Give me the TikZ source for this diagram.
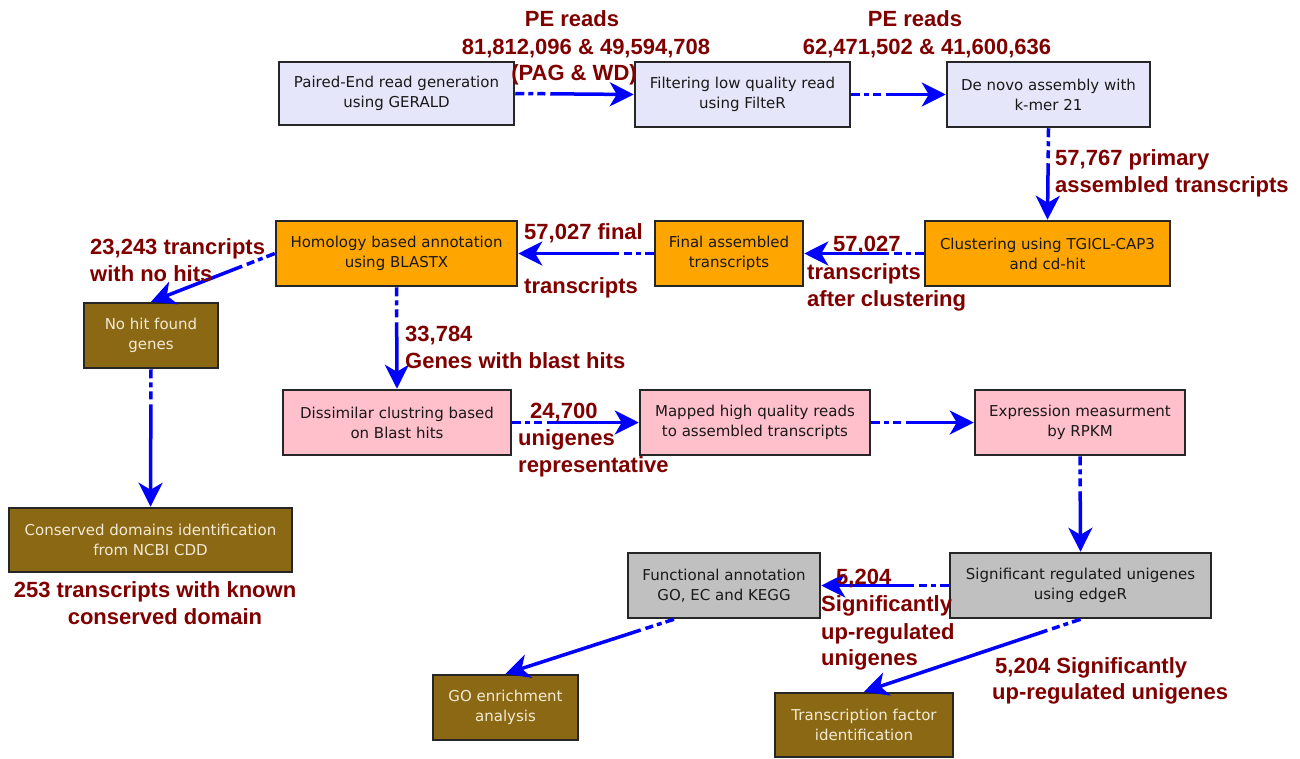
\documentclass[tikz,border=0pt]{standalone}
\usepackage{fontspec}
\setmainfont{DejaVu Sans}
\newfontfamily\labfont{Liberation Sans}
\usetikzlibrary{arrows.meta,calc}
\definecolor{lav}{HTML}{E6E6FA}
\definecolor{orng}{HTML}{FFA500}
\definecolor{pnk}{HTML}{FFC0CB}
\definecolor{gry}{HTML}{C0C0C0}
\definecolor{brn}{HTML}{8B6914}
\definecolor{dred}{HTML}{800000}
\definecolor{btxt}{HTML}{F3EAD6}
\tikzset{
  box/.style={draw=black!85, line width=2.5pt, minimum height=65pt, inner sep=0pt,
    align=center, font=\fontsize{15}{20}\selectfont, text=black!90},
  lavbox/.style={box, fill=lav},
  orbox/.style={box, fill=orng},
  pkbox/.style={box, fill=pnk},
  grbox/.style={box, fill=gry},
  brbox/.style={box, fill=brn, text=btxt},
  conn/.style={draw=blue, line width=3.5pt, -{Stealth[length=24pt,width=24pt,inset=7pt]},
    dash pattern=on 9pt off 4pt on 5pt off 4pt on 8pt off 5pt on 3000pt},
  lab/.style={text=dred, inner sep=0pt, font=\labfont\fontsize{22}{27}\selectfont\bfseries}
}
\begin{document}
\begin{tikzpicture}[x=1pt,y=-1pt]
\useasboundingbox (0,0) rectangle (1300,758);
\fill[white] (0,0) rectangle (1300,758);

% boxes
\node[lavbox, minimum width=235pt, minimum height=63pt] (pe) at (396.5,93.5) {Paired-End read generation\\using GERALD};
\node[lavbox, minimum width=215pt] (fi) at (742.5,94.5) {Filtering low quality read\\using FilteR};
\node[lavbox, minimum width=203pt] (dn) at (1048.5,94.5) {De novo assembly with\\k-mer 21};
\node[orbox, minimum width=245pt] (cl) at (1047.5,253.5) {Clustering using TGICL-CAP3\\and cd-hit};
\node[orbox, minimum width=148pt] (fa) at (729,253.5) {Final assembled\\transcripts};
\node[orbox, minimum width=241pt] (ho) at (396.5,253.5) {Homology based annotation\\using BLASTX};
\node[brbox, minimum width=134pt] (nh) at (151,335.5) {No hit found\\genes};
\node[brbox, minimum width=283pt, minimum height=64pt] (cd) at (150.5,540) {Conserved domains identification\\from NCBI CDD};
\node[pkbox, minimum width=228pt] (di) at (397,422.5) {Dissimilar clustring based\\on Blast hits};
\node[pkbox, minimum width=230pt] (ma) at (755,422.5) {Mapped high quality reads\\to assembled transcripts};
\node[pkbox, minimum width=210pt] (ex) at (1080,422.5) {Expression measurment\\by RPKM};
\node[grbox, minimum width=261pt] (si) at (1080.5,585.5) {Significant regulated unigenes\\using edgeR};
\node[grbox, minimum width=192pt] (fu) at (724,585.5) {Functional annotation\\GO, EC and KEGG};
\node[brbox, minimum width=145pt] (go) at (505.5,707.5) {GO enrichment\\analysis};
\node[brbox, minimum width=178pt, minimum height=64pt] (tf) at (864,725) {Transcription factor\\identification};

% connectors
\draw[conn] (pe.east) -- (fi.west);
\draw[conn] (fi.east) -- (dn.west);
\draw[conn] (dn.south) -- (cl.north);
\draw[conn] (cl.west) -- (fa.east);
\draw[conn] (fa.west) -- (ho.east);
\draw[conn] (ho.west) -- (nh.north);
\draw[conn] (nh.south) -- (cd.north);
\draw[conn] (ho.south) -- (di.north);
\draw[conn] (di.east) -- (ma.west);
\draw[conn] (ma.east) -- (ex.west);
\draw[conn] (ex.south) -- (si.north);
\draw[conn] (si.west) -- (fu.east);
\coordinate (fub) at ($(fu.south)+(-50,0)$);
\draw[conn] (fub) -- (go.north);
\draw[conn] (si.south) -- (tf.north);

% labels
\node[lab, anchor=base] (t1) at (572,26) {PE reads};
\node[lab, anchor=base] (t2) at (586,54) {81,812,096 \& 49,594,708};
\node[lab, anchor=base] (t3) at (574,80) {(PAG \& WD)};
\node[lab, anchor=base] (t4) at (915,26) {PE reads};
\node[lab, anchor=base] (t5) at (927,54) {62,471,502 \& 41,600,636};
\node[lab, anchor=base west] (t6) at (1055,165) {57,767 primary};
\node[lab, anchor=base west] (t7) at (1055,192) {assembled transcripts};
\node[lab, anchor=base west] (t8) at (524,239) {57,027 final};
\node[lab, anchor=base west] (t9) at (524,293) {transcripts};
\node[lab, anchor=base west] (t10) at (833,251) {57,027};
\node[lab, anchor=base west] (t11) at (807,279) {transcripts};
\node[lab, anchor=base west] (t12) at (807,306) {after clustering};
\node[lab, anchor=base west] (t13) at (90,254) {23,243 trancripts};
\node[lab, anchor=base west] (t14) at (90,281) {with no hits};
\node[lab, anchor=base west] (t15) at (405,341) {33,784};
\node[lab, anchor=base west] (t16) at (405,368) {Genes with blast hits};
\node[lab, anchor=base west] (t17) at (530,418) {24,700};
\node[lab, anchor=base west] (t18) at (518,445) {unigenes};
\node[lab, anchor=base west] (t19) at (518,472) {representative};
\node[lab, anchor=base] (t20) at (155,597) {253 transcripts with known};
\node[lab, anchor=base] (t21) at (165,624) {conserved domain};
\node[lab, anchor=base west] (t22) at (836,584) {5,204};
\node[lab, anchor=base west] (t23) at (821,611) {Significantly};
\node[lab, anchor=base west] (t24) at (821,639) {up-regulated};
\node[lab, anchor=base west] (t25) at (821,665) {unigenes};
\node[lab, anchor=base west] (t26) at (995,673) {5,204 Significantly};
\node[lab, anchor=base west] (t27) at (992,699) {up-regulated unigenes};
\end{tikzpicture}
\end{document}
